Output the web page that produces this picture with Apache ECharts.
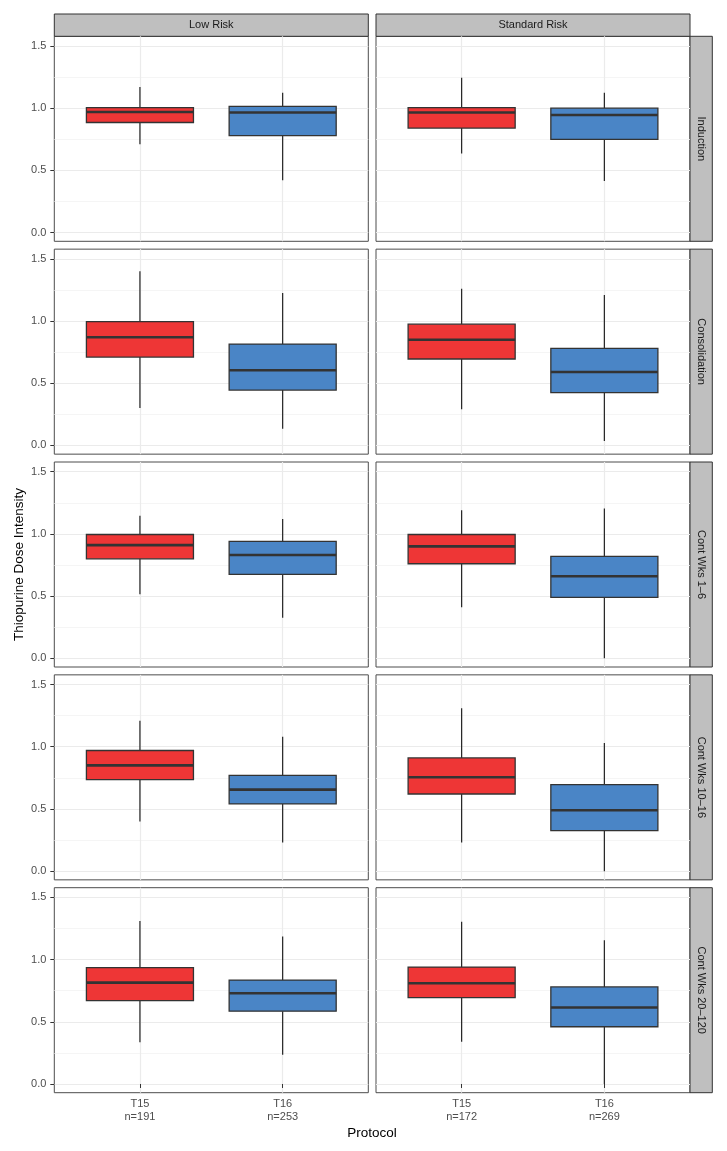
<!DOCTYPE html>
<html>
<head>
<meta charset="utf-8">
<script src="https://cdn.jsdelivr.net/npm/echarts@6/dist/echarts.min.js"></script>
<style>
  html, body { margin: 0; padding: 0; background: #fff; }
  #main { width: 727px; height: 1151px; }
</style>
</head>
<body>
<div id="main"></div>
<script>
// facet rows / columns
const phases = ['Induction', 'Consolidation', 'Cont Wks 1\u20136', 'Cont Wks 10\u201316', 'Cont Wks 20\u2013120'];
const risks = ['Low Risk', 'Standard Risk'];
const protocols = ['T15', 'T16'];
const nLowRisk = [191, 253];
const nStdRisk = [172, 269];
const yTicks = [0, 0.5, 1, 1.5];

// box stats for each phase: [lower whisker, Q1, median, Q3, upper whisker]
const lowT15 = [
  [0.71, 0.885, 0.97, 1.005, 1.17],
  [0.30, 0.71, 0.87, 0.995, 1.40],
  [0.515, 0.80, 0.91, 0.995, 1.145],
  [0.40, 0.735, 0.85, 0.97, 1.21],
  [0.335, 0.67, 0.815, 0.935, 1.31]
];
const lowT16 = [
  [0.42, 0.78, 0.965, 1.015, 1.125],
  [0.135, 0.445, 0.605, 0.815, 1.225],
  [0.325, 0.675, 0.83, 0.94, 1.12],
  [0.23, 0.54, 0.655, 0.77, 1.08],
  [0.235, 0.585, 0.73, 0.835, 1.185]
];
const stdT15 = [
  [0.635, 0.84, 0.965, 1.005, 1.245],
  [0.29, 0.695, 0.85, 0.975, 1.26],
  [0.41, 0.76, 0.90, 0.995, 1.19],
  [0.23, 0.62, 0.755, 0.91, 1.31],
  [0.34, 0.695, 0.81, 0.94, 1.305]
];
const stdT16 = [
  [0.415, 0.75, 0.945, 1.0, 1.125],
  [0.035, 0.425, 0.59, 0.78, 1.21],
  [0.0, 0.49, 0.66, 0.82, 1.205],
  [0.0, 0.325, 0.49, 0.695, 1.03],
  [0.0, 0.46, 0.615, 0.78, 1.155]
];

const chart = echarts.init(document.getElementById('main'));

const fills = ['#ee3636', '#4a85c6'];
const fontFamily = '"Liberation Sans", Arial, sans-serif';
const panelLeft = [54.3, 376];
const panelW = 314;
const panelH = 205;
const rowTop0 = 36.3;
const rowStep = 212.85;

// 每个箱子：须线 + 箱体 + 中位线
function renderBox(params, api) {
  const x = api.value(0);
  const lo = api.coord([x, api.value(1)]);
  const q1 = api.coord([x, api.value(2)]);
  const md = api.coord([x, api.value(3)]);
  const q3 = api.coord([x, api.value(4)]);
  const hi = api.coord([x, api.value(5)]);
  const half = api.size([0.75, 0])[0] / 2;
  const fill = fills[params.dataIndex];
  return {
    type: 'group',
    children: [
      { type: 'line', shape: { x1: hi[0], y1: hi[1], x2: q3[0], y2: q3[1] }, style: { stroke: '#222', lineWidth: 1.2 } },
      { type: 'line', shape: { x1: q1[0], y1: q1[1], x2: lo[0], y2: lo[1] }, style: { stroke: '#222', lineWidth: 1.2 } },
      { type: 'rect', shape: { x: q3[0] - half, y: q3[1], width: half * 2, height: q1[1] - q3[1] },
        style: { fill: fill, stroke: '#333', lineWidth: 1.3 } },
      { type: 'line', shape: { x1: md[0] - half, y1: md[1], x2: md[0] + half, y2: md[1] },
        style: { stroke: '#333', lineWidth: 2.6 } }
    ]
  };
}

const grid = [], xAxis = [], yAxis = [], series = [], graphic = [];

phases.forEach((phase, r) => {
  const top = rowTop0 + r * rowStep;
  risks.forEach((risk, c) => {
    const idx = grid.length;
    const ns = c === 0 ? nLowRisk : nStdRisk;
    const sets = c === 0 ? [lowT15, lowT16] : [stdT15, stdT16];
    grid.push({
      left: panelLeft[c], top: top, width: panelW, height: panelH,
      show: true, borderColor: '#4d4d4d', borderWidth: 1, backgroundColor: '#fff'
    });
    xAxis.push({
      gridIndex: idx, type: 'value', min: 0.4, max: 2.6, splitNumber: 2,
      axisLine: { show: false },
      axisTick: { show: r === 4, customValues: [1, 2], length: 4, lineStyle: { color: '#333' } },
      axisLabel: {
        show: r === 4, customValues: [1, 2], margin: 5,
        color: '#4d4d4d', fontSize: 11, fontFamily: fontFamily, lineHeight: 13,
        formatter: (v) => {
          const i = Math.round(v) - 1;
          if (Math.abs(v - Math.round(v)) > 1e-6 || i < 0 || i > 1) return '';
          return protocols[i] + '\nn=' + ns[i];
        }
      },
      splitLine: { show: true, lineStyle: { color: '#ebebeb', width: 1.2 } }
    });
    yAxis.push({
      gridIndex: idx, type: 'value', min: -0.07, max: 1.578, splitNumber: 4,
      axisLine: { show: false },
      axisTick: { show: c === 0, customValues: yTicks, length: 4, lineStyle: { color: '#333' } },
      axisLabel: {
        show: c === 0, customValues: yTicks, margin: 8,
        color: '#4d4d4d', fontSize: 11, fontFamily: fontFamily,
        formatter: (v) => v.toFixed(1)
      },
      splitLine: { show: true, lineStyle: { color: '#ebebeb', width: 1.2 } },
      minorTick: { show: false, splitNumber: 2 },
      minorSplitLine: { show: true, lineStyle: { color: '#f2f2f2', width: 0.8 } }
    });
    series.push({
      type: 'custom', xAxisIndex: idx, yAxisIndex: idx, renderItem: renderBox,
      data: sets.map((s, i) => [i + 1].concat(s[r]))
    });
    // 顶部分面标签
    if (r === 0) {
      graphic.push({
        type: 'rect', shape: { x: panelLeft[c], y: 14, width: panelW, height: 22.3 },
        style: { fill: '#bfbfbf', stroke: '#333', lineWidth: 1 }
      });
      graphic.push({
        type: 'text', x: panelLeft[c] + panelW / 2, y: 25.2,
        style: { text: risk, fill: '#1a1a1a', fontSize: 11, fontFamily: fontFamily, align: 'center', verticalAlign: 'middle' }
      });
    }
  });
  // 右侧分面标签
  graphic.push({
    type: 'rect', shape: { x: 690, y: top, width: 22.3, height: panelH },
    style: { fill: '#bfbfbf', stroke: '#333', lineWidth: 1 }
  });
  graphic.push({
    type: 'text', x: 701.2, y: top + panelH / 2, rotation: -Math.PI / 2,
    style: { text: phase, fill: '#1a1a1a', fontSize: 11, fontFamily: fontFamily, align: 'center', verticalAlign: 'middle' }
  });
});

// 坐标轴标题
graphic.push({
  type: 'text', x: 372, y: 1133,
  style: { text: 'Protocol', fill: '#000', fontSize: 13.5, fontFamily: fontFamily, align: 'center', verticalAlign: 'middle' }
});
graphic.push({
  type: 'text', x: 19, y: 564.5, rotation: Math.PI / 2,
  style: { text: 'Thiopurine Dose Intensity', fill: '#000', fontSize: 13.5, fontFamily: fontFamily, align: 'center', verticalAlign: 'middle' }
});

chart.setOption({
  animation: false,
  backgroundColor: '#fff',
  grid: grid,
  xAxis: xAxis,
  yAxis: yAxis,
  series: series,
  graphic: graphic
});
</script>
</body>
</html>
